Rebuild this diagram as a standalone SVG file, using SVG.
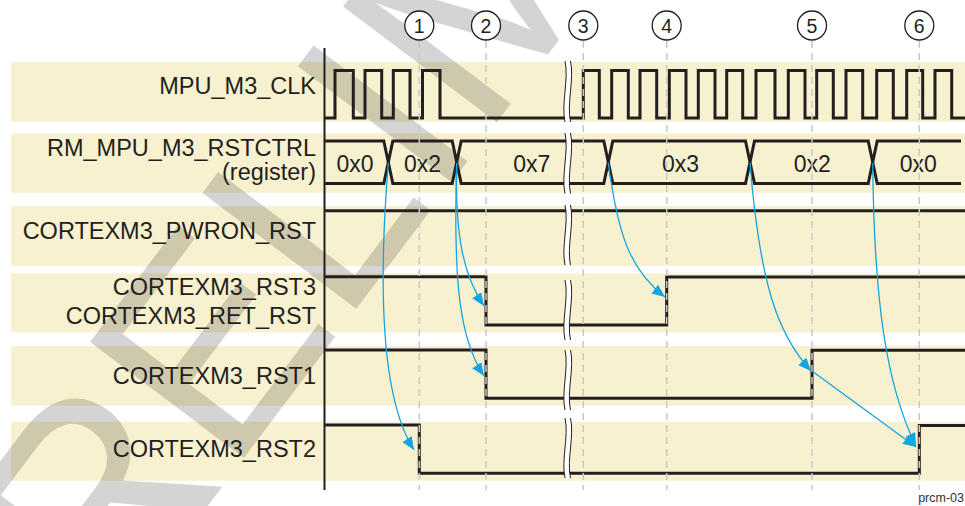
<svg xmlns="http://www.w3.org/2000/svg" width="965" height="506" viewBox="0 0 965 506">
<defs>
<style>
.band{fill:#f8f1cf}
.lbl{font-family:"Liberation Sans",Arial,sans-serif;font-size:23.5px;fill:#231f20}
.val{font-family:"Liberation Sans",Arial,sans-serif;font-size:23px;fill:#231f20;text-anchor:middle}
.num{font-family:"Liberation Sans",Arial,sans-serif;font-size:19.5px;fill:#231f20;text-anchor:middle}
.sig{fill:none;stroke:#231f20;stroke-width:3;stroke-linejoin:miter;stroke-linecap:butt}
.guide{fill:none;stroke:#c8c8c8;stroke-width:1.5;stroke-dasharray:7 5}
.brk{fill:#fff;stroke:none}
.brkl{fill:none;stroke:#231f20;stroke-width:1}
.arr{fill:none;stroke:#12a5e3;stroke-width:1.3;marker-end:url(#ah)}
.circ{fill:#fff;stroke:#231f20;stroke-width:1.3}
</style>
<marker id="ah" markerWidth="13" markerHeight="11" refX="13" refY="5.5" orient="auto" markerUnits="userSpaceOnUse">
<path d="M0,0 L13,5.5 L0,11 Z" fill="#12a5e3"/>
</marker>
</defs>

<g id="bands">
<rect class="band" x="11" y="62" width="954" height="59.7"/>
<rect class="band" x="11" y="133.3" width="954" height="59.4"/>
<rect class="band" x="11" y="206" width="954" height="60"/>
<rect class="band" x="11" y="273.3" width="954" height="59"/>
<rect class="band" x="11" y="346" width="954" height="59.7"/>
<rect class="band" x="11" y="421.7" width="954" height="59"/>
</g>

<g id="watermark">
<text x="-4" y="787" transform="rotate(-53 -4 787)" font-family="Liberation Sans, Arial, sans-serif" font-size="280" fill="#000" fill-opacity="0.17">PRELIMINARY</text>
</g>

<g id="labels">
<text class="lbl" x="316" y="94" text-anchor="end">MPU_M3_CLK</text>
<text class="lbl" x="316" y="155.5" text-anchor="end">RM_MPU_M3_RSTCTRL</text>
<text class="lbl" x="316" y="180" text-anchor="end">(register)</text>
<text class="lbl" x="316" y="238.5" text-anchor="end">CORTEXM3_PWRON_RST</text>
<text class="lbl" x="316" y="295" text-anchor="end">CORTEXM3_RST3</text>
<text class="lbl" x="316" y="323.5" text-anchor="end">CORTEXM3_RET_RST</text>
<text class="lbl" x="316" y="383.5" text-anchor="end">CORTEXM3_RST1</text>
<text class="lbl" x="316" y="456.5" text-anchor="end">CORTEXM3_RST2</text>
</g>

<g id="axis">
<line x1="324.5" y1="48" x2="324.5" y2="490" stroke="#231f20" stroke-width="2"/>
</g>

<g id="clk">
<path class="sig" d="M324,118 H335 V70.5 H353.3 V118 H365 V70.5 H381.7 V118 H393.3 V70.5 H410 V118 H422.5 V70.5 H440 V118 H583.3 V70.5 H599.3 V118 H611.7 V70.5 H628.3 V118 H640 V70.5 H656.7 V118 H669.3 V70.5 H686 V118 H698.3 V70.5 H715 V118 H726.7 V70.5 H742.7 V118 H756 V70.5 H775 V118 H788.3 V70.5 H805 V118 H816.7 V70.5 H833.3 V118 H846 V70.5 H862.7 V118 H876.7 V70.5 H893.3 V118 H906.7 V70.5 H922.7 V118 H935 V70.5 H951.7 V118 H965"/>
</g>

<g id="register">
<path class="sig" d="M324,141 H383.8 L388.3,162.2 L392.8,141 H452.2 L456.7,162.2 L461.2,141 H603.8 L608.3,162.2 L612.8,141 H745.5 L750,162.2 L754.5,141 H868.2 L872.7,162.2 L877.2,141 H961"/>
<path class="sig" d="M324,183.5 H383.8 L388.3,162.2 L392.8,183.5 H452.2 L456.7,162.2 L461.2,183.5 H603.8 L608.3,162.2 L612.8,183.5 H745.5 L750,162.2 L754.5,183.5 H868.2 L872.7,162.2 L877.2,183.5 H961"/>
<text class="val" x="355" y="171.7">0x0</text>
<text class="val" x="422.5" y="171.7">0x2</text>
<text class="val" x="531.7" y="171.7">0x7</text>
<text class="val" x="680.5" y="171.7">0x3</text>
<text class="val" x="812.3" y="171.7">0x2</text>
<text class="val" x="918.3" y="171.7">0x0</text>
</g>

<g id="pwron">
<path class="sig" d="M324,210.7 H965"/>
</g>
<g id="rst3">
<path class="sig" d="M324,276.7 H486 V325 H666.7 V277 H965"/>
</g>
<g id="rst1">
<path class="sig" d="M324,350 H486 V398.3 H812 V350.3 H965"/>
</g>
<g id="rst2">
<path class="sig" d="M324,425 H419.3 V473.3 H919.3 V425.5 H965"/>
</g>

<g id="breaks">
<path class="brk" d="M565,61 C569,79 561,103 565,122 L570.5,122 C566.5,103 574.5,79 570.5,61 Z"/>
<path class="brkl" d="M565,61 C569,79 561,103 565,122 M570.5,61 C574.5,79 566.5,103 570.5,122"/>
<path class="brk" d="M565,133 C569,151 561,175 565,193.5 L570.5,193.5 C566.5,175 574.5,151 570.5,133 Z"/>
<path class="brkl" d="M565,133 C569,151 561,175 565,193.5 M570.5,133 C574.5,151 566.5,175 570.5,193.5"/>
<path class="brk" d="M565,205 C569,223 561,247 565,265 L570.5,265 C566.5,247 574.5,223 570.5,205 Z"/>
<path class="brkl" d="M565,205 C569,223 561,247 565,265 M570.5,205 C574.5,223 566.5,247 570.5,265"/>
<path class="brk" d="M565,280 C569,298 561,322 565,340 L570.5,340 C566.5,322 574.5,298 570.5,280 Z"/>
<path class="brkl" d="M565,280 C569,298 561,322 565,340 M570.5,280 C574.5,298 566.5,322 570.5,340"/>
<path class="brk" d="M565,350 C569,368 561,392 565,410 L570.5,410 C566.5,392 574.5,368 570.5,350 Z"/>
<path class="brkl" d="M565,350 C569,368 561,392 565,410 M570.5,350 C574.5,368 566.5,392 570.5,410"/>
<path class="brk" d="M565,418 C569,436 561,460 565,478 L570.5,478 C566.5,460 574.5,436 570.5,418 Z"/>
<path class="brkl" d="M565,418 C569,436 561,460 565,478 M570.5,418 C574.5,436 566.5,460 570.5,478"/>
</g>

<g id="guides">
<line class="guide" x1="419.3" y1="41" x2="419.3" y2="490"/>
<line class="guide" x1="486" y1="41" x2="486" y2="490"/>
<line class="guide" x1="583.3" y1="41" x2="583.3" y2="490"/>
<line class="guide" x1="666.7" y1="41" x2="666.7" y2="490"/>
<line class="guide" x1="812" y1="41" x2="812" y2="490"/>
<line class="guide" x1="919.3" y1="41" x2="919.3" y2="490"/>
</g>

<g id="markers">
<g id="m1"><circle class="circ" cx="419.3" cy="25.5" r="14.5"/><text class="num" x="419.3" y="32.5">1</text></g>
<g id="m2"><circle class="circ" cx="486" cy="25.5" r="14.5"/><text class="num" x="486" y="32.5">2</text></g>
<g id="m3"><circle class="circ" cx="583.3" cy="25.5" r="14.5"/><text class="num" x="583.3" y="32.5">3</text></g>
<g id="m4"><circle class="circ" cx="666.7" cy="25.5" r="14.5"/><text class="num" x="666.7" y="32.5">4</text></g>
<g id="m5"><circle class="circ" cx="812" cy="25.5" r="14.5"/><text class="num" x="812" y="32.5">5</text></g>
<g id="m6"><circle class="circ" cx="919.3" cy="25.5" r="14.5"/><text class="num" x="919.3" y="32.5">6</text></g>
</g>

<g id="connectors">
<path class="arr" d="M388.3,163 C378,290 382,400 414,450"/>
<path class="arr" d="M456.7,163 C455,235 463,275 484,306"/>
<path class="arr" d="M456.7,163 C453,285 460,340 484,376"/>
<path class="arr" d="M608.3,163 C618,235 630,270 665,297"/>
<path class="arr" d="M750,163 C760,285 778,335 811,371"/>
<path class="arr" d="M812,371 L916,447"/>
<path class="arr" d="M872.7,163 C874,300 886,385 916,446"/>
</g>

<text x="964" y="502" text-anchor="end" font-family="Liberation Sans, Arial, sans-serif" font-size="12.5" fill="#333">prcm-03</text>
</svg>
